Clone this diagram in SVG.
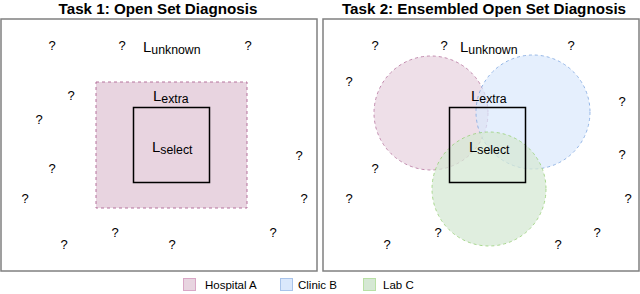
<svg xmlns="http://www.w3.org/2000/svg" width="640" height="294" viewBox="0 0 640 294">
<style>
text{font-family:"Liberation Sans",Arial,sans-serif;fill:#000}
.t{font-size:15.2px;font-weight:bold;text-anchor:middle}
.q{font-size:13px;text-anchor:middle}
.L{font-size:15px}
.s{font-size:12.3px}
.lg{font-size:11.5px}
.frame{fill:#fff;stroke:#808080;stroke-width:1.5}
.sel{fill:none;stroke:#000;stroke-width:1.5}
.pink{fill:#e8d4e0;stroke:#b5739d;stroke-dasharray:3 3}
.blue{fill:#dae8fc;stroke:#7ea6e0;stroke-dasharray:3 3}
.green{fill:#d5e8d4;stroke:#97d077;stroke-dasharray:3 3}
</style>
<text class="t" x="158" y="14">Task 1: Open Set Diagnosis</text>
<text class="t" x="484" y="14">Task 2: Ensembled Open Set Diagnosis</text>
<g id="panel1">
<rect class="frame" x="1" y="19" width="316" height="252"/>
</g>
<g id="panel2">
<rect class="frame" x="323" y="19" width="316" height="252"/>
</g>
<g id="extra1">
<rect class="pink" x="96" y="82" width="151" height="126"/>
</g>
<g id="circleA"><circle class="pink" cx="431" cy="113" r="57" fill-opacity="0.75" stroke-opacity="0.8"/></g>
<g id="circleB"><circle class="blue" cx="533" cy="112" r="57" fill-opacity="0.7" stroke-opacity="0.8"/></g>
<g id="circleC"><circle class="green" cx="489" cy="189" r="57" fill-opacity="0.75" stroke-opacity="0.8"/></g>
<g id="select1"><rect class="sel" x="133.5" y="107.5" width="76" height="75"/></g>
<g id="select2"><rect class="sel" x="449.5" y="107.5" width="76" height="75"/></g>
<g id="labels1">
<text x="143" y="52"><tspan class="L">L</tspan><tspan class="s" dy="2">unknown</tspan></text>
<text x="153" y="101"><tspan class="L">L</tspan><tspan class="s" dy="2">extra</tspan></text>
<text x="152" y="152"><tspan class="L">L</tspan><tspan class="s" dy="2">select</tspan></text>
</g>
<g id="labels2">
<text x="460" y="52"><tspan class="L">L</tspan><tspan class="s" dy="2">unknown</tspan></text>
<text x="471" y="101"><tspan class="L">L</tspan><tspan class="s" dy="2">extra</tspan></text>
<text x="469" y="152"><tspan class="L">L</tspan><tspan class="s" dy="2">select</tspan></text>
</g>
<g id="unknowns1">
<text class="q" x="52" y="50">?</text>
<text class="q" x="122" y="50">?</text>
<text class="q" x="248" y="50">?</text>
<text class="q" x="71" y="100">?</text>
<text class="q" x="39" y="124">?</text>
<text class="q" x="52" y="173">?</text>
<text class="q" x="299" y="160">?</text>
<text class="q" x="25" y="203">?</text>
<text class="q" x="304" y="203">?</text>
<text class="q" x="115" y="237">?</text>
<text class="q" x="64" y="249">?</text>
<text class="q" x="172" y="249">?</text>
<text class="q" x="273" y="237">?</text>
</g>
<g id="unknowns2">
<text class="q" x="375" y="50">?</text>
<text class="q" x="444" y="50">?</text>
<text class="q" x="571" y="50">?</text>
<text class="q" x="349" y="86">?</text>
<text class="q" x="622" y="106">?</text>
<text class="q" x="375" y="173">?</text>
<text class="q" x="622" y="159">?</text>
<text class="q" x="349" y="203">?</text>
<text class="q" x="628" y="203">?</text>
<text class="q" x="438" y="237">?</text>
<text class="q" x="597" y="237">?</text>
<text class="q" x="387" y="249">?</text>
<text class="q" x="558" y="249">?</text>
</g>
<g id="legend">
<rect x="183.5" y="278.5" width="12" height="12" fill="#e8d4e0" stroke="#d9a7c6"/>
<text class="lg" x="205" y="289">Hospital A</text>
<rect x="280.5" y="278.5" width="12" height="12" fill="#dae8fc" stroke="#a9c4eb"/>
<text class="lg" x="298" y="289">Clinic B</text>
<rect x="363.5" y="278.5" width="12" height="12" fill="#d5e8d4" stroke="#b9e0a5"/>
<text class="lg" x="383" y="289">Lab C</text>
</g>
</svg>
